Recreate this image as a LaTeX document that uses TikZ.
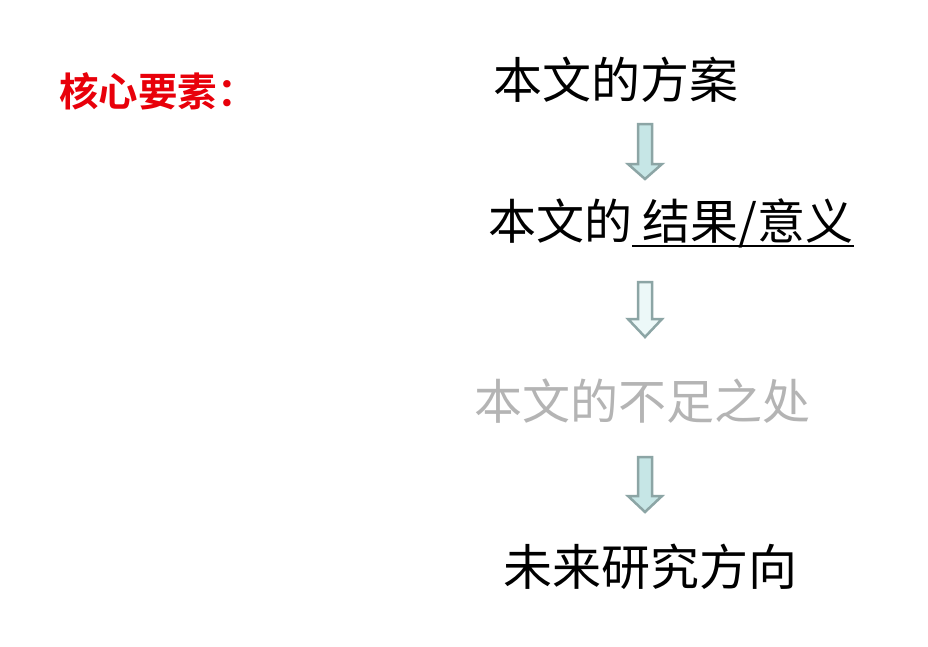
\documentclass[tikz,border=0pt]{standalone}
\usepackage{fontspec}
\newfontfamily\cjk{Noto Sans CJK SC}
\newfontfamily\cjkbold{Noto Sans CJK SC Bold}
\definecolor{keyred}{RGB}{232,0,10}
\definecolor{lackgray}{RGB}{180,180,180}
\definecolor{arrowedge}{RGB}{140,165,165}
\definecolor{fillA}{RGB}{198,230,230}
\definecolor{fillB}{RGB}{236,248,248}
\newcommand\myul[1]{\setbox0=\hbox{#1}\rlap{\smash{\rule[-8pt]{\wd0}{2pt}}}\box0}
\begin{document}
\begin{tikzpicture}[x=1pt,y=-1pt,
  title/.style={font=\cjk\fontsize{49}{49}\selectfont, inner sep=0pt},
  blk/.style={draw=arrowedge, line width=2.5pt, line join=miter}]
\useasboundingbox[fill=white] (0,0) rectangle (928,646);
\node[anchor=west, text=keyred, font=\cjkbold\fontsize{39.5}{39.5}\selectfont, inner sep=0pt] (key) at (59,91) {核心要素：};
\node[title] (plan) at (616,80) {本文的方案};
\node[title, anchor=west, font=\cjk\fontsize{48}{48}\selectfont] (res) at (488,223) {本文的\myul{ 结果/意义}};
\node[title, text=lackgray, font=\cjk\fontsize{48}{48}\selectfont] (lack) at (642,401) {本文的不足之处};
\node[title] (future) at (650,567) {未来研究方向};
\draw[blk, fill=fillA] (638,124) -- (652,124) -- (652,164) -- (662,164) -- (645,179) -- (628,164) -- (638,164) -- cycle;
\draw[blk, fill=fillB] (638,282) -- (652,282) -- (652,319) -- (662,319) -- (645,337) -- (628,319) -- (638,319) -- cycle;
\draw[blk, fill=fillA] (638,457) -- (652,457) -- (652,496) -- (662,496) -- (645,512) -- (628,496) -- (638,496) -- cycle;
\end{tikzpicture}
\end{document}
